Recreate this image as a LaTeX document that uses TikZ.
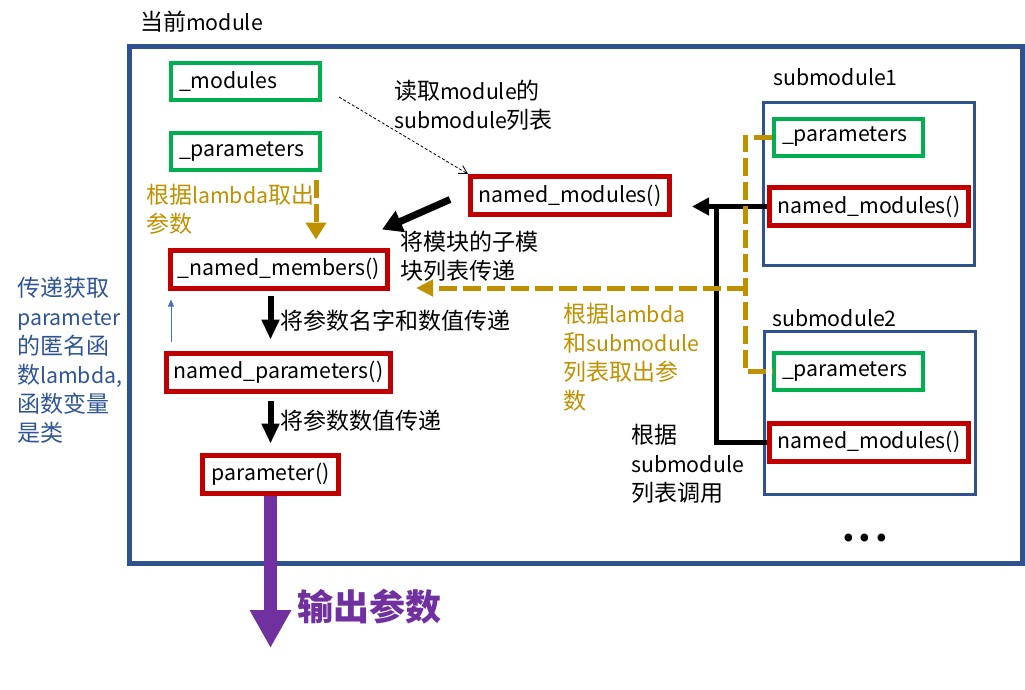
\documentclass[tikz,border=0pt]{standalone}
\usepackage{fontspec}
\setmainfont{Noto Sans CJK SC}
\usetikzlibrary{arrows.meta}
\definecolor{frameblue}{HTML}{2F528F}
\definecolor{boxgreen}{HTML}{00B050}
\definecolor{boxred}{HTML}{C00000}
\definecolor{gold}{HTML}{BF9000}
\definecolor{outpurple}{HTML}{7030A0}
\definecolor{noteblue}{HTML}{2F5597}
\definecolor{thinblue}{HTML}{4472C4}
\newcommand{\txt}{\fontsize{23}{29}\selectfont}
\newcommand{\lattxt}{\fontsize{21.3}{29}\selectfont}
\newcommand{\lt}[1]{{\lattxt #1}}
\tikzset{
  every node/.style={font=\txt},
  grnbox/.style={draw=boxgreen, line width=4pt, minimum height=37pt, inner xsep=8pt, text width=133pt, align=left, font=\lattxt},
  redbox/.style={draw=boxred, line width=5pt, minimum height=38pt, font=\lattxt},
  subbox/.style={draw=frameblue, line width=3pt, minimum width=211pt, minimum height=163pt},
  lbl/.style={anchor=west, align=left, inner sep=0pt},
  blkarr/.style={draw=black, line width=6pt, -{Triangle[length=20pt,width=17pt]}},
  goldline/.style={draw=gold, line width=5pt, dash pattern=on 18pt off 6pt},
}
\begin{document}
\begin{tikzpicture}[x=1pt, y=-1pt]
      \useasboundingbox (0,0) rectangle (1025,689);
      % current module
      \node[draw=frameblue, line width=5pt, minimum width=893pt, minimum height=517pt] (curmod) at (575.5,304.5) {};
      \node[lbl] (curlbl) at (140,22) {当前\lt{module}};
      \node[grnbox] (mods) at (245.5,81.5) {\_modules};
      \node[grnbox] (params) at (245.5,151.5) {\_parameters};
      \node[redbox, minimum width=199pt] (nmods) at (570,195.5) {named\_modules()};
      \node[redbox, minimum width=217pt] (nmem) at (279,269) {\_named\_members()};
      \node[redbox, minimum width=224pt] (npar) at (278.5,372) {named\_parameters()};
      \node[redbox, minimum width=136pt] (par) at (270.5,474) {parameter()};
      % submodules
      \node[lbl, font=\lattxt] (s1lbl) at (773,77) {submodule1};
      \node[subbox] (sub1) at (869,184) {};
      \node[grnbox] (s1par) at (848.5,137) {\_parameters};
      \node[redbox, minimum width=199pt] (s1nm) at (869,206.5) {named\_modules()};
      \node[lbl, font=\lattxt] (s2lbl) at (772,318) {submodule2};
      \node[subbox] (sub2) at (869.5,413) {};
      \node[grnbox] (s2par) at (848.5,371.5) {\_parameters};
      \node[redbox, minimum width=199pt] (s2nm) at (869,442) {named\_modules()};
      \node[anchor=base, font=\fontsize{36}{40}\selectfont\bfseries] (dots) at (865,541) {.\hspace{4pt}.\hspace{4pt}.};
      % labels
      \node[lbl] (readlbl) at (394,105.5) {读取\lt{module}的\\\lt{submodule}列表};
      \node[lbl] (passlbl) at (400,256.5) {将模块的子模\\块列表传递};
      \node[lbl] (namelbl) at (280,321) {将参数名字和数值传递};
      \node[lbl] (vallbl) at (280,421) {将参数数值传递};
      \node[lbl, text=gold] (lamlbl) at (146,209) {根据\lt{lambda}取出\\参数};
      \node[lbl, text=noteblue] (notelbl) at (17,360.5) {传递获取\\\lt{parameter}\\的匿名函\\数\lt{lambda,}\\函数变量\\是类};
      \node[lbl, text=gold] (sublamlbl) at (563,357.5) {根据\lt{lambda}\\和\lt{submodule}\\列表取出参\\数};
      \node[lbl] (calllbl) at (631,463.5) {根据\\\lt{submodule}\\列表调用};
      \node[lbl, text=outpurple, font=\fontsize{36}{40}\selectfont\bfseries] (outlbl) at (297,607) {输出参数};
      \coordinate (rd) at (339,97);
      \coordinate (gtip) at (416,288);
      \coordinate (outtip) at (270.5,648);
      % connectors
      \draw[line width=0.8pt, dash pattern=on 3pt off 2pt, -{Straight Barb[length=8pt,width=9pt]}] (rd) -- (nmods.north west);
      \draw[blkarr, line width=7pt, -{Triangle[length=20pt,width=22pt]}] ([xshift=-18pt,yshift=-4pt]nmods.west) -- ([xshift=-8pt,yshift=18pt]nmem.north east);
      \draw[blkarr, shorten <=5pt, shorten >=11pt] (nmem.south -| par.north) -- (npar.north -| par.north);
      \draw[blkarr, shorten <=7pt, shorten >=9pt] (npar.south -| par.north) -- (par.north);
      \draw[thinblue, line width=1pt, -{Triangle[length=7pt,width=6pt]}, shorten <=9pt, shorten >=9pt] ([xshift=7pt]npar.north west) -- ([xshift=7pt]npar.north west |- nmem.south);
      \draw[goldline, -{Triangle[length=17pt,width=20pt]}, shorten <=8pt, shorten >=8pt] ([xshift=70.5pt]params.south) -- ([xshift=70.5pt]params.south |- nmem.north);
      \draw[outpurple, line width=13pt, -{Triangle[length=38pt,width=39pt]}] (par.south) -- (outtip);
      \draw[black, line width=5pt, -{Triangle[length=17pt,width=17pt]}, shorten >=20pt] (s1nm.west) -- (s1nm.west -| nmods.east);
      \draw[black, line width=5pt] (s2nm.west) -| ([xshift=-51pt]s1nm.west);
      \draw[goldline] (s1par.west) -- ++(-27pt,0) coordinate (gtop) |- (s2par.west);
      \draw[goldline, -{Triangle[length=17pt,width=16pt]}] (gtop |- gtip) -- (gtip);
\end{tikzpicture}
\end{document}
